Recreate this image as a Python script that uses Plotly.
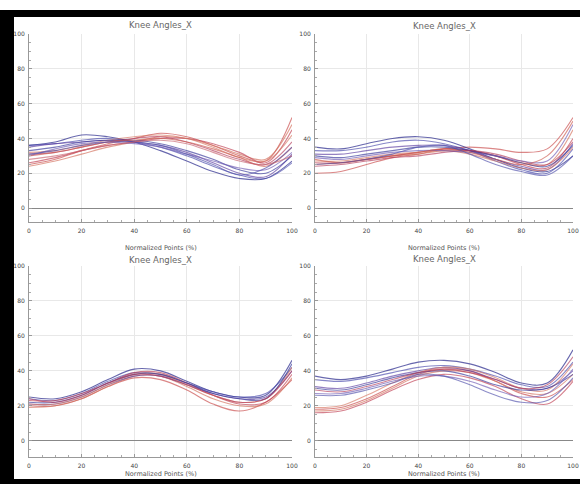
import plotly.graph_objects as go

x_pts = [0, 10, 20, 30, 40, 50, 60, 70, 80, 90, 100]
tick_vals = [0, 20, 40, 60, 80, 100]
tick_text = ["0", "20", "40", "60", "80", "100"]
panel_title = "Knee Angles_X"
x_title = "Normalized Points (%)"

# Panel 1 (top-left)
p1_blue = [
    [36, 38, 42, 41, 38, 33, 27, 21, 17, 17, 27],
    [36, 37, 39, 40, 38, 35, 30, 24, 19, 17, 26],
    [35, 37, 38, 39, 38, 36, 32, 26, 20, 18, 31],
    [33, 35, 38, 39, 39, 37, 33, 28, 22, 20, 30],
    [30, 34, 37, 38, 37, 35, 31, 27, 23, 22, 32],
    [31, 33, 36, 38, 38, 36, 31, 25, 19, 23, 35],
]
p1_red = [
    [25, 28, 33, 37, 40, 43, 41, 36, 30, 27, 52],
    [24, 27, 31, 35, 38, 41, 40, 36, 31, 28, 48],
    [26, 29, 33, 36, 38, 40, 40, 37, 32, 26, 45],
    [32, 33, 36, 39, 41, 42, 40, 35, 29, 27, 42],
    [31, 32, 35, 38, 40, 41, 38, 33, 28, 25, 38],
    [30, 32, 35, 38, 39, 40, 38, 34, 29, 24, 35],
    [28, 30, 33, 36, 38, 39, 37, 32, 27, 25, 30],
]
# Panel 2 (top-right)
p2_blue = [
    [35, 34, 37, 40, 41, 39, 34, 28, 23, 21, 30],
    [33, 33, 35, 38, 39, 37, 33, 27, 22, 20, 34],
    [31, 31, 33, 35, 36, 36, 33, 28, 24, 22, 37],
    [30, 29, 31, 33, 35, 35, 33, 30, 26, 24, 36],
    [29, 28, 30, 32, 33, 33, 32, 30, 27, 27, 48],
    [25, 26, 28, 31, 35, 36, 31, 25, 21, 19, 30],
]
p2_red = [
    [20, 21, 25, 29, 31, 34, 35, 34, 32, 34, 52],
    [25, 26, 28, 30, 31, 33, 33, 30, 26, 25, 45],
    [26, 26, 28, 30, 32, 34, 33, 30, 25, 23, 40],
    [27, 27, 29, 31, 32, 33, 31, 27, 23, 22, 35],
    [24, 25, 27, 29, 30, 32, 33, 31, 27, 25, 38],
    [28, 26, 28, 30, 32, 34, 32, 28, 25, 30, 50],
]
# Panel 3 (bottom-left)
p3_blue = [
    [25, 24, 28, 35, 41, 40, 34, 28, 25, 26, 46],
    [24, 23, 27, 34, 39, 38, 33, 28, 25, 27, 42],
    [21, 21, 25, 32, 37, 37, 32, 27, 24, 25, 40],
    [22, 22, 26, 33, 38, 38, 33, 27, 24, 24, 44],
]
p3_red = [
    [20, 20, 24, 31, 36, 35, 29, 21, 17, 22, 35],
    [19, 20, 24, 31, 37, 37, 31, 24, 20, 21, 36],
    [23, 23, 27, 33, 39, 39, 33, 26, 21, 22, 38],
    [21, 21, 25, 32, 38, 38, 32, 26, 22, 24, 42],
    [24, 22, 26, 33, 38, 37, 32, 26, 22, 24, 40],
]
# Panel 4 (bottom-right)
p4_blue = [
    [37, 35, 37, 41, 45, 46, 44, 39, 33, 33, 52],
    [35, 34, 36, 39, 42, 43, 41, 37, 32, 31, 45],
    [31, 30, 33, 37, 40, 42, 40, 35, 30, 30, 40],
    [30, 29, 32, 36, 39, 40, 37, 32, 29, 30, 38],
    [27, 27, 30, 34, 37, 37, 34, 29, 25, 27, 41],
    [26, 26, 29, 33, 38, 37, 32, 26, 22, 23, 36],
]
p4_red = [
    [18, 19, 24, 31, 38, 41, 40, 34, 27, 25, 35],
    [17, 18, 23, 30, 37, 40, 39, 34, 28, 27, 38],
    [16, 17, 22, 29, 35, 38, 36, 31, 24, 21, 34],
    [19, 20, 26, 33, 39, 42, 41, 36, 30, 29, 44],
    [29, 28, 31, 35, 39, 41, 39, 35, 30, 32, 48],
]

blue_cols = ["rgba(40,40,140,0.7)", "rgba(70,70,170,0.65)", "rgba(90,60,160,0.65)",
             "rgba(50,50,150,0.65)", "rgba(110,90,180,0.65)", "rgba(80,80,170,0.65)"]
red_cols = ["rgba(200,70,70,0.65)", "rgba(210,110,90,0.65)", "rgba(190,60,80,0.65)",
            "rgba(215,120,100,0.65)", "rgba(180,60,90,0.65)", "rgba(205,90,80,0.65)",
            "rgba(200,100,110,0.65)"]

W, H = 580, 484
def fx(px):
    return px / W
def fy(py):
    return 1 - py / H

panels = [
    # (blue, red, x0px, x1px, ytop px, ybottom px, yrange, title y, xtitle y)
    (p1_blue, p1_red, 29, 292, 34, 222, [-8, 100], 25, 248),
    (p2_blue, p2_red, 315, 573, 34, 222, [-8, 100], 26, 248),
    (p3_blue, p3_red, 29, 292, 266, 457, [-9.3, 100], 260, 474),
    (p4_blue, p4_red, 315, 573, 266, 457, [-9.3, 100], 259, 474),
]

fig = go.Figure()
annotations = []
layout_axes = {}
for i, (blue, red, x0, x1, yt, yb, yr, ttl_y, xt_y) in enumerate(panels, start=1):
    xa = "x" if i == 1 else f"x{i}"
    ya = "y" if i == 1 else f"y{i}"
    series = []
    for k in range(max(len(blue), len(red))):
        if k < len(red):
            series.append((red[k], red_cols[k % len(red_cols)]))
        if k < len(blue):
            series.append((blue[k], blue_cols[k % len(blue_cols)]))
    for vals, col in series:
        fig.add_trace(go.Scatter(x=x_pts, y=vals, mode="lines", xaxis=xa, yaxis=ya,
                                 line=dict(color=col, width=1.1, shape="spline", smoothing=1.0),
                                 showlegend=False, hoverinfo="skip"))
    axis_common = dict(showgrid=True, gridcolor="#e8e8e8", gridwidth=1,
                       showline=True, linecolor="#999", linewidth=1,
                       ticks="inside", ticklen=3, tickcolor="#999",
                       tickvals=tick_vals, ticktext=tick_text,
                       tickfont=dict(family="DejaVu Sans", size=6, color="#444"),
                       minor=dict(ticks="inside", ticklen=2, tickcolor="#aaa", dtick=5, showgrid=False),
                       automargin=False, fixedrange=True, ticklabeloverflow="allow")
    layout_axes["xaxis" if i == 1 else f"xaxis{i}"] = dict(
        axis_common, domain=[fx(x0), fx(x1)], range=[0, 100], anchor=ya,
        zeroline=False, ticklabelstandoff=3)
    layout_axes["yaxis" if i == 1 else f"yaxis{i}"] = dict(
        axis_common, domain=[fy(yb), fy(yt)], range=yr, anchor=xa,
        zeroline=True, zerolinecolor="#888", zerolinewidth=1, ticklabelstandoff=2)
    annotations.append(dict(text=panel_title, x=fx((x0 + x1) / 2), y=fy(ttl_y),
                            xref="paper", yref="paper", showarrow=False,
                            font=dict(family="DejaVu Sans", size=8.5, color="#666"),
                            xanchor="center", yanchor="middle"))
    annotations.append(dict(text=x_title, x=fx((x0 + x1) / 2), y=fy(xt_y),
                            xref="paper", yref="paper", showarrow=False,
                            font=dict(family="DejaVu Sans", size=6.5, color="#555"),
                            xanchor="center", yanchor="middle"))

shapes = [
    dict(type="rect", xref="paper", yref="paper", x0=0, x1=fx(14), y0=0, y1=fy(10),
         fillcolor="black", line=dict(width=0), layer="above"),
    dict(type="rect", xref="paper", yref="paper", x0=fx(5), x1=1, y0=fy(17), y1=fy(10),
         fillcolor="black", line=dict(width=0), layer="above"),
    dict(type="rect", xref="paper", yref="paper", x0=0, x1=1, y0=0, y1=fy(479),
         fillcolor="black", line=dict(width=0), layer="above"),
]

fig.update_layout(width=W, height=H, margin=dict(l=0, r=0, t=0, b=0),
                  paper_bgcolor="white", plot_bgcolor="white",
                  annotations=annotations, shapes=shapes, showlegend=False,
                  **layout_axes)

fig.write_html("out.html", config={"displayModeBar": False},
               post_script="document.body.style.margin='0';document.body.style.overflow='hidden';")
